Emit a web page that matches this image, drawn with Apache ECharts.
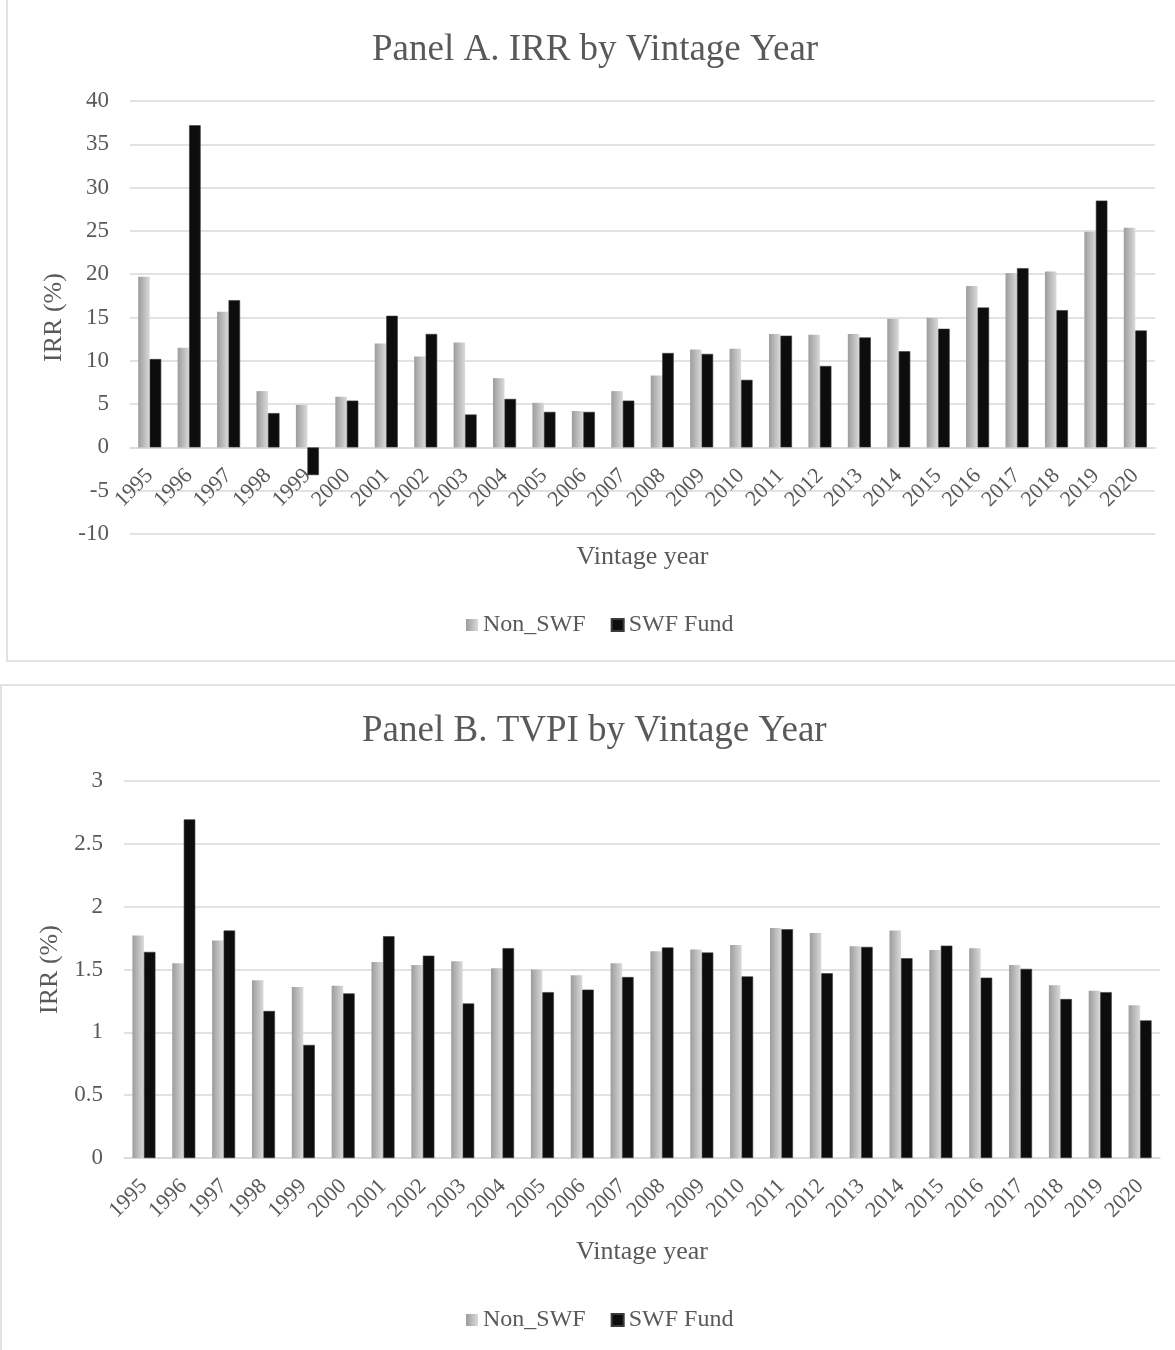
<!DOCTYPE html>
<html>
<head>
<meta charset="utf-8">
<script src="https://cdn.jsdelivr.net/npm/echarts@6/dist/echarts.min.js"></script>
<style>
html,body{margin:0;padding:0;background:#fff;}
#chart{width:1175px;height:1350px;}
</style>
</head>
<body>
<div id="chart"></div>
<script>
const years = ['1995','1996','1997','1998','1999','2000','2001','2002','2003','2004','2005','2006','2007','2008','2009','2010','2011','2012','2013','2014','2015','2016','2017','2018','2019','2020'];
const irrNonSWF = [19.7, 11.5, 15.65, 6.5, 4.9, 5.85, 12.0, 10.5, 12.1, 8.0, 5.15, 4.2, 6.5, 8.3, 11.3, 11.4, 13.1, 13.0, 13.1, 14.85, 14.96, 18.65, 20.15, 20.3, 24.9, 25.35];
const irrSWF = [10.2, 37.2, 17.0, 3.96, -3.2, 5.4, 15.2, 13.1, 3.8, 5.6, 4.1, 4.1, 5.4, 10.9, 10.8, 7.8, 12.9, 9.4, 12.7, 11.1, 13.7, 16.15, 20.7, 15.85, 28.5, 13.5];
const tvpiNonSWF = [1.77, 1.55, 1.73, 1.415, 1.36, 1.37, 1.56, 1.535, 1.565, 1.51, 1.50, 1.455, 1.55, 1.645, 1.66, 1.695, 1.83, 1.79, 1.685, 1.81, 1.655, 1.67, 1.535, 1.375, 1.33, 1.215];
const tvpiSWF = [1.64, 2.695, 1.81, 1.17, 0.9, 1.31, 1.765, 1.61, 1.23, 1.67, 1.32, 1.34, 1.44, 1.675, 1.635, 1.445, 1.82, 1.47, 1.68, 1.59, 1.69, 1.435, 1.505, 1.265, 1.32, 1.095];
const seriesNames = ['Non_SWF', 'SWF Fund'];
const titles = ['Panel A. IRR by Vintage Year', 'Panel B. TVPI by Vintage Year'];
const yAxisTitle = 'IRR (%)';
const xAxisTitle = 'Vintage year';

const FONT = '"Liberation Serif", "Times New Roman", serif';
const TXT = '#595959';
const GRID = '#d9d9d9';

const chart = echarts.init(document.getElementById('chart'), null, {renderer: 'canvas'});

const grayGrad = new echarts.graphic.LinearGradient(0, 0, 1, 0, [
  {offset: 0, color: '#9c9c9c'},
  {offset: 1, color: '#dadada'}
]);

// Panel A plot: y from 101 (40) to 534 (-10); zero line sits 86.6px above the bottom
const gridA = {left: 130, right: 20, top: 101, bottom: 1350 - 534};
const gridB = {left: 124, right: 15, top: 781, bottom: 1350 - 1158};
const zeroOffsetA = -(534 - 101) * 10 / 50;

function xAxis(gridIndex, nameGap, offset) {
  return {
    type: 'category', gridIndex, data: years, offset,
    name: xAxisTitle, nameLocation: 'middle', nameGap,
    nameTextStyle: {fontFamily: FONT, fontSize: 26, color: TXT},
    axisLine: {onZero: false, lineStyle: {color: GRID, width: 1.5}},
    axisTick: {show: false},
    axisLabel: {interval: 0, rotate: 45, fontFamily: FONT, fontSize: 22, color: TXT, margin: 25}
  };
}
function yAxis(gridIndex, min, max, interval, nameGap) {
  return {
    type: 'value', gridIndex, min, max, interval,
    name: yAxisTitle, nameLocation: 'middle', nameGap,
    nameTextStyle: {fontFamily: FONT, fontSize: 26, color: TXT},
    axisLine: {show: false}, axisTick: {show: false},
    axisLabel: {fontFamily: FONT, fontSize: 23, color: TXT, margin: 21},
    splitLine: {lineStyle: {color: GRID, width: 1.5}}
  };
}
function bar(name, data, idx, color, border) {
  return {
    name, type: 'bar', data, xAxisIndex: idx, yAxisIndex: idx,
    barWidth: 11.5, barGap: '0%',
    itemStyle: {color, borderColor: border || 'transparent', borderWidth: border ? 0.6 : 0},
    emphasis: {disabled: true}
  };
}
function legend(top) {
  return {
    data: seriesNames, top, left: 466, padding: 0,
    itemWidth: 12, itemHeight: 12, itemGap: 25, icon: 'rect',
    textStyle: {fontFamily: FONT, fontSize: 24, color: TXT, padding: [0, 0, 0, 0]},
    selectedMode: false
  };
}
function title(text, left, top) {
  return {text, left, top, padding: 0, textStyle: {fontFamily: FONT, fontSize: 37, fontWeight: 'normal', color: TXT}};
}

chart.setOption({
  animation: false,
  backgroundColor: '#fff',
  title: [title(titles[0], 372, 32), title(titles[1], 362, 713)],
  legend: [legend(613), legend(1308)],
  grid: [gridA, gridB],
  xAxis: [xAxis(0, 97, zeroOffsetA), xAxis(1, 81, 0)],
  yAxis: [yAxis(0, -10, 40, 5, 57), yAxis(1, 0, 3, 0.5, 53)],
  series: [
    bar(seriesNames[0], irrNonSWF, 0, grayGrad),
    bar(seriesNames[1], irrSWF, 0, '#0d0d0d', '#3a3a3a'),
    bar(seriesNames[0], tvpiNonSWF, 1, grayGrad),
    bar(seriesNames[1], tvpiSWF, 1, '#0d0d0d', '#3a3a3a')
  ],
  graphic: [
    {type: 'rect', shape: {x: 7, y: -2, width: 1175, height: 663}, style: {fill: 'none', stroke: GRID, lineWidth: 1.5}, silent: true},
    {type: 'rect', shape: {x: 1, y: 685, width: 1180, height: 680}, style: {fill: 'none', stroke: GRID, lineWidth: 1.5}, silent: true}
  ]
});
</script>
</body>
</html>
